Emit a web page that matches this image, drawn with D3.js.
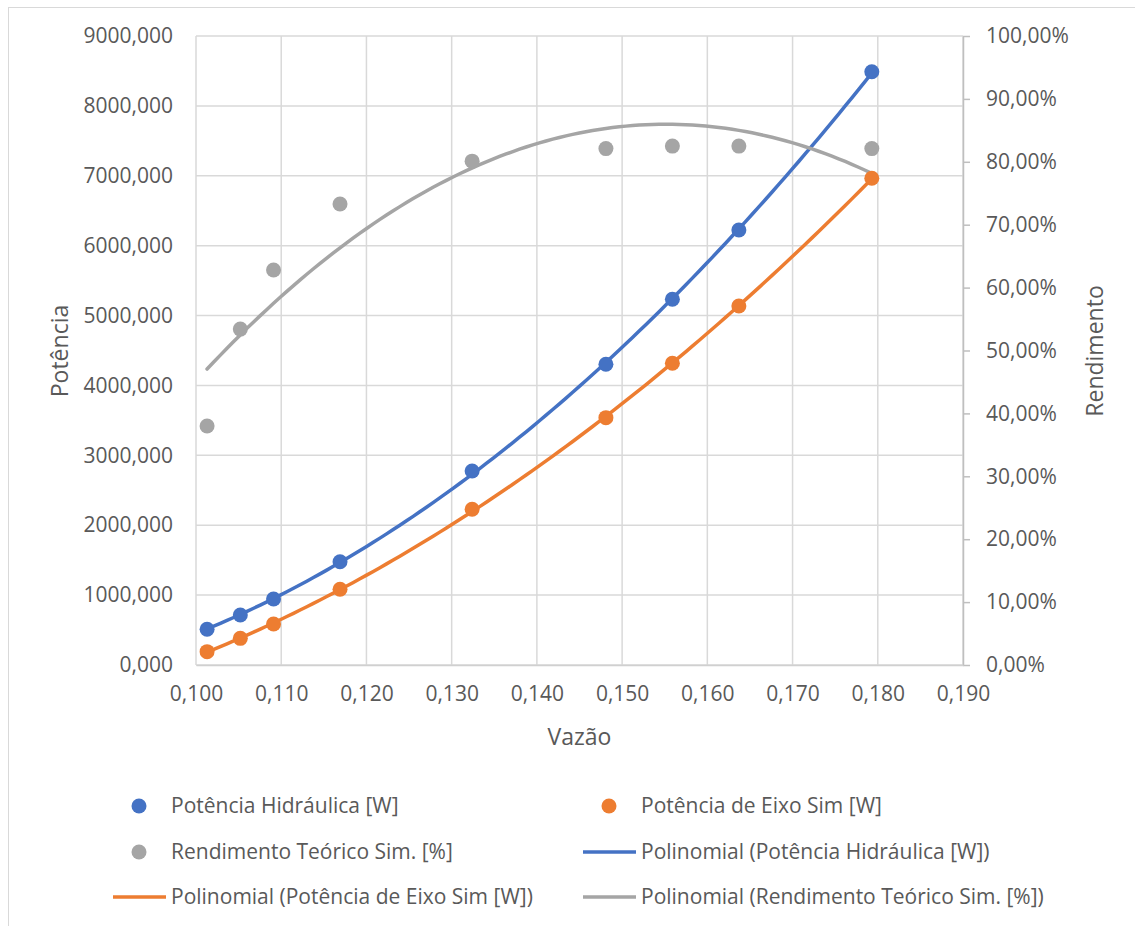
<!DOCTYPE html>
<html>
<head>
<meta charset="utf-8">
<script src="https://cdn.jsdelivr.net/npm/d3@7"></script>
<style>
  html, body { margin: 0; padding: 0; background: #fff; }
  svg text { font-family: "Open Sans", "Noto Sans", sans-serif; fill: #595959; }
</style>
</head>
<body>
<svg id="chart" width="1135" height="926"></svg>
<script>
// ---- data ----
const vazao = [0.1013, 0.1052, 0.1091, 0.1169, 0.1324, 0.1481, 0.1559, 0.1637, 0.1793];
const potHidraulica = [511, 715, 944, 1478, 2776, 4303, 5233, 6224, 8489];
const potEixo = [191, 381, 587, 1083, 2228, 3539, 4317, 5137, 6964];
const rendimento = [0.380, 0.534, 0.628, 0.733, 0.801, 0.821, 0.825, 0.825, 0.821];
const xTicks = [0.10, 0.11, 0.12, 0.13, 0.14, 0.15, 0.16, 0.17, 0.18, 0.19];
const yLeftTicks = [0, 1000, 2000, 3000, 4000, 5000, 6000, 7000, 8000, 9000];
const yRightTicks = [0, 0.1, 0.2, 0.3, 0.4, 0.5, 0.6, 0.7, 0.8, 0.9, 1.0];
const legendLabels = [
  "Potência Hidráulica [W]", "Potência de Eixo Sim [W]",
  "Rendimento Teórico Sim. [%]", "Polinomial (Potência Hidráulica [W])",
  "Polinomial (Potência de Eixo Sim [W])", "Polinomial (Rendimento Teórico Sim. [%])"
];

const colors = { blue: "#4472C4", orange: "#ED7D31", gray: "#A5A5A5" };

const locale = d3.formatLocale({ decimal: ",", thousands: "", grouping: [3], currency: ["", ""] });
const fmtX = locale.format(".3f");
const fmtL = locale.format(".3f");
const fmtR = locale.format(".2%");

const svg = d3.select("#chart");

// outer chart border
svg.append("rect").attr("x", 8.5).attr("y", 7.5).attr("width", 1200).attr("height", 1000)
  .attr("fill", "none").attr("stroke", "#d9d9d9").attr("stroke-width", 1);

const plot = { left: 196, right: 963, top: 36, bottom: 665 };

const x = d3.scaleLinear().domain([0.10, 0.19]).range([plot.left, plot.right]);
const yL = d3.scaleLinear().domain([0, 9000]).range([plot.bottom, plot.top]);
const yR = d3.scaleLinear().domain([0, 1]).range([plot.bottom, plot.top]);

// gridlines
const grid = svg.append("g");
grid.selectAll("line.h").data(yLeftTicks).join("line")
  .attr("x1", plot.left).attr("x2", plot.right)
  .attr("y1", d => yL(d)).attr("y2", d => yL(d))
  .attr("stroke", "#d9d9d9").attr("stroke-width", 1.5);
grid.selectAll("line.v").data(xTicks).join("line")
  .attr("x1", d => x(d)).attr("x2", d => x(d))
  .attr("y1", plot.top).attr("y2", plot.bottom)
  .attr("stroke", "#d9d9d9").attr("stroke-width", 1.5);

// axes
const fontSize = 21;
const axL = svg.append("g").attr("transform", `translate(${plot.left},0)`)
  .call(d3.axisLeft(yL).tickValues(yLeftTicks).tickFormat(fmtL).tickSize(0).tickPadding(23));
axL.select(".domain").remove();
const axR = svg.append("g").attr("transform", `translate(${plot.right},0)`)
  .call(d3.axisRight(yR).tickValues(yRightTicks).tickFormat(fmtR).tickSize(7).tickSizeOuter(0).tickPadding(16));
axR.select(".domain").attr("stroke", "#bfbfbf").attr("stroke-width", 1.5);
axR.selectAll(".tick line").attr("stroke", "#bfbfbf").attr("stroke-width", 1.5);
const axB = svg.append("g").attr("transform", `translate(0,${plot.bottom})`)
  .call(d3.axisBottom(x).tickValues(xTicks).tickFormat(fmtX).tickSize(0).tickPadding(21));
axB.select(".domain").attr("stroke", "#d0d0d0").attr("stroke-width", 1.5);
svg.selectAll(".tick text").attr("font-size", fontSize).attr("fill", "#595959")
  .attr("font-family", '"Open Sans", sans-serif');

// axis titles
svg.append("text").attr("transform", `translate(68,351) rotate(-90)`)
  .attr("text-anchor", "middle").attr("font-size", 23).text("Potência");
svg.append("text").attr("transform", `translate(1103,351) rotate(-90)`)
  .attr("text-anchor", "middle").attr("font-size", 23).text("Rendimento");
svg.append("text").attr("x", (plot.left + plot.right) / 2).attr("y", 745)
  .attr("text-anchor", "middle").attr("font-size", 23).text("Vazão");

// quadratic least-squares fit (Excel polynomial trendline, order 2)
function polyFit2(xs, ys) {
  const mx = d3.mean(xs);
  const u = xs.map(v => v - mx);
  let s = [0, 0, 0, 0, 0], t = [0, 0, 0];
  u.forEach((ui, i) => {
    for (let k = 0; k <= 4; k++) s[k] += Math.pow(ui, k);
    for (let k = 0; k <= 2; k++) t[k] += Math.pow(ui, k) * ys[i];
  });
  const A = [[s[0], s[1], s[2]], [s[1], s[2], s[3]], [s[2], s[3], s[4]]];
  const b = t.slice();
  for (let i = 0; i < 3; i++) {
    for (let j = i + 1; j < 3; j++) {
      const f = A[j][i] / A[i][i];
      for (let k = i; k < 3; k++) A[j][k] -= f * A[i][k];
      b[j] -= f * b[i];
    }
  }
  const c = [0, 0, 0];
  for (let i = 2; i >= 0; i--) {
    let sum = b[i];
    for (let k = i + 1; k < 3; k++) sum -= A[i][k] * c[k];
    c[i] = sum / A[i][i];
  }
  return v => c[0] + c[1] * (v - mx) + c[2] * (v - mx) * (v - mx);
}

const xs = d3.range(0, 101).map(i => vazao[0] + (vazao[vazao.length - 1] - vazao[0]) * i / 100);
const series = [
  { ys: potHidraulica, scale: yL, color: colors.blue },
  { ys: potEixo, scale: yL, color: colors.orange },
  { ys: rendimento, scale: yR, color: colors.gray }
];

// trendlines
series.forEach(s => {
  const f = polyFit2(vazao, s.ys);
  svg.append("path").datum(xs)
    .attr("d", d3.line().x(d => x(d)).y(d => s.scale(f(d))).curve(d3.curveLinear))
    .attr("fill", "none").attr("stroke", s.color).attr("stroke-width", 3.5)
    .attr("stroke-linecap", "round");
});

// markers
series.forEach(s => {
  svg.append("g").selectAll("circle").data(vazao).join("circle")
    .attr("cx", d => x(d)).attr("cy", (d, i) => s.scale(s.ys[i])).attr("r", 7.5)
    .attr("fill", s.color);
});

// legend
const legendItems = [
  { label: legendLabels[0], type: "dot", color: colors.blue, col: 0, row: 0 },
  { label: legendLabels[1], type: "dot", color: colors.orange, col: 1, row: 0 },
  { label: legendLabels[2], type: "dot", color: colors.gray, col: 0, row: 1 },
  { label: legendLabels[3], type: "line", color: colors.blue, col: 1, row: 1 },
  { label: legendLabels[4], type: "line", color: colors.orange, col: 0, row: 2 },
  { label: legendLabels[5], type: "line", color: colors.gray, col: 1, row: 2 }
];
const colX = [139, 609];
const rowY = [806, 852, 897];
const lg = svg.append("g");
legendItems.forEach(it => {
  const cx = colX[it.col], cy = rowY[it.row];
  if (it.type === "dot") {
    lg.append("circle").attr("cx", cx).attr("cy", cy).attr("r", 7.5).attr("fill", it.color);
  } else {
    lg.append("line").attr("x1", cx - 26).attr("x2", cx + 27).attr("y1", cy).attr("y2", cy)
      .attr("stroke", it.color).attr("stroke-width", 3.5);
  }
  lg.append("text").attr("x", cx + 32).attr("y", cy).attr("dy", "0.35em")
    .attr("font-size", 21).text(it.label);
});
</script>
</body>
</html>
